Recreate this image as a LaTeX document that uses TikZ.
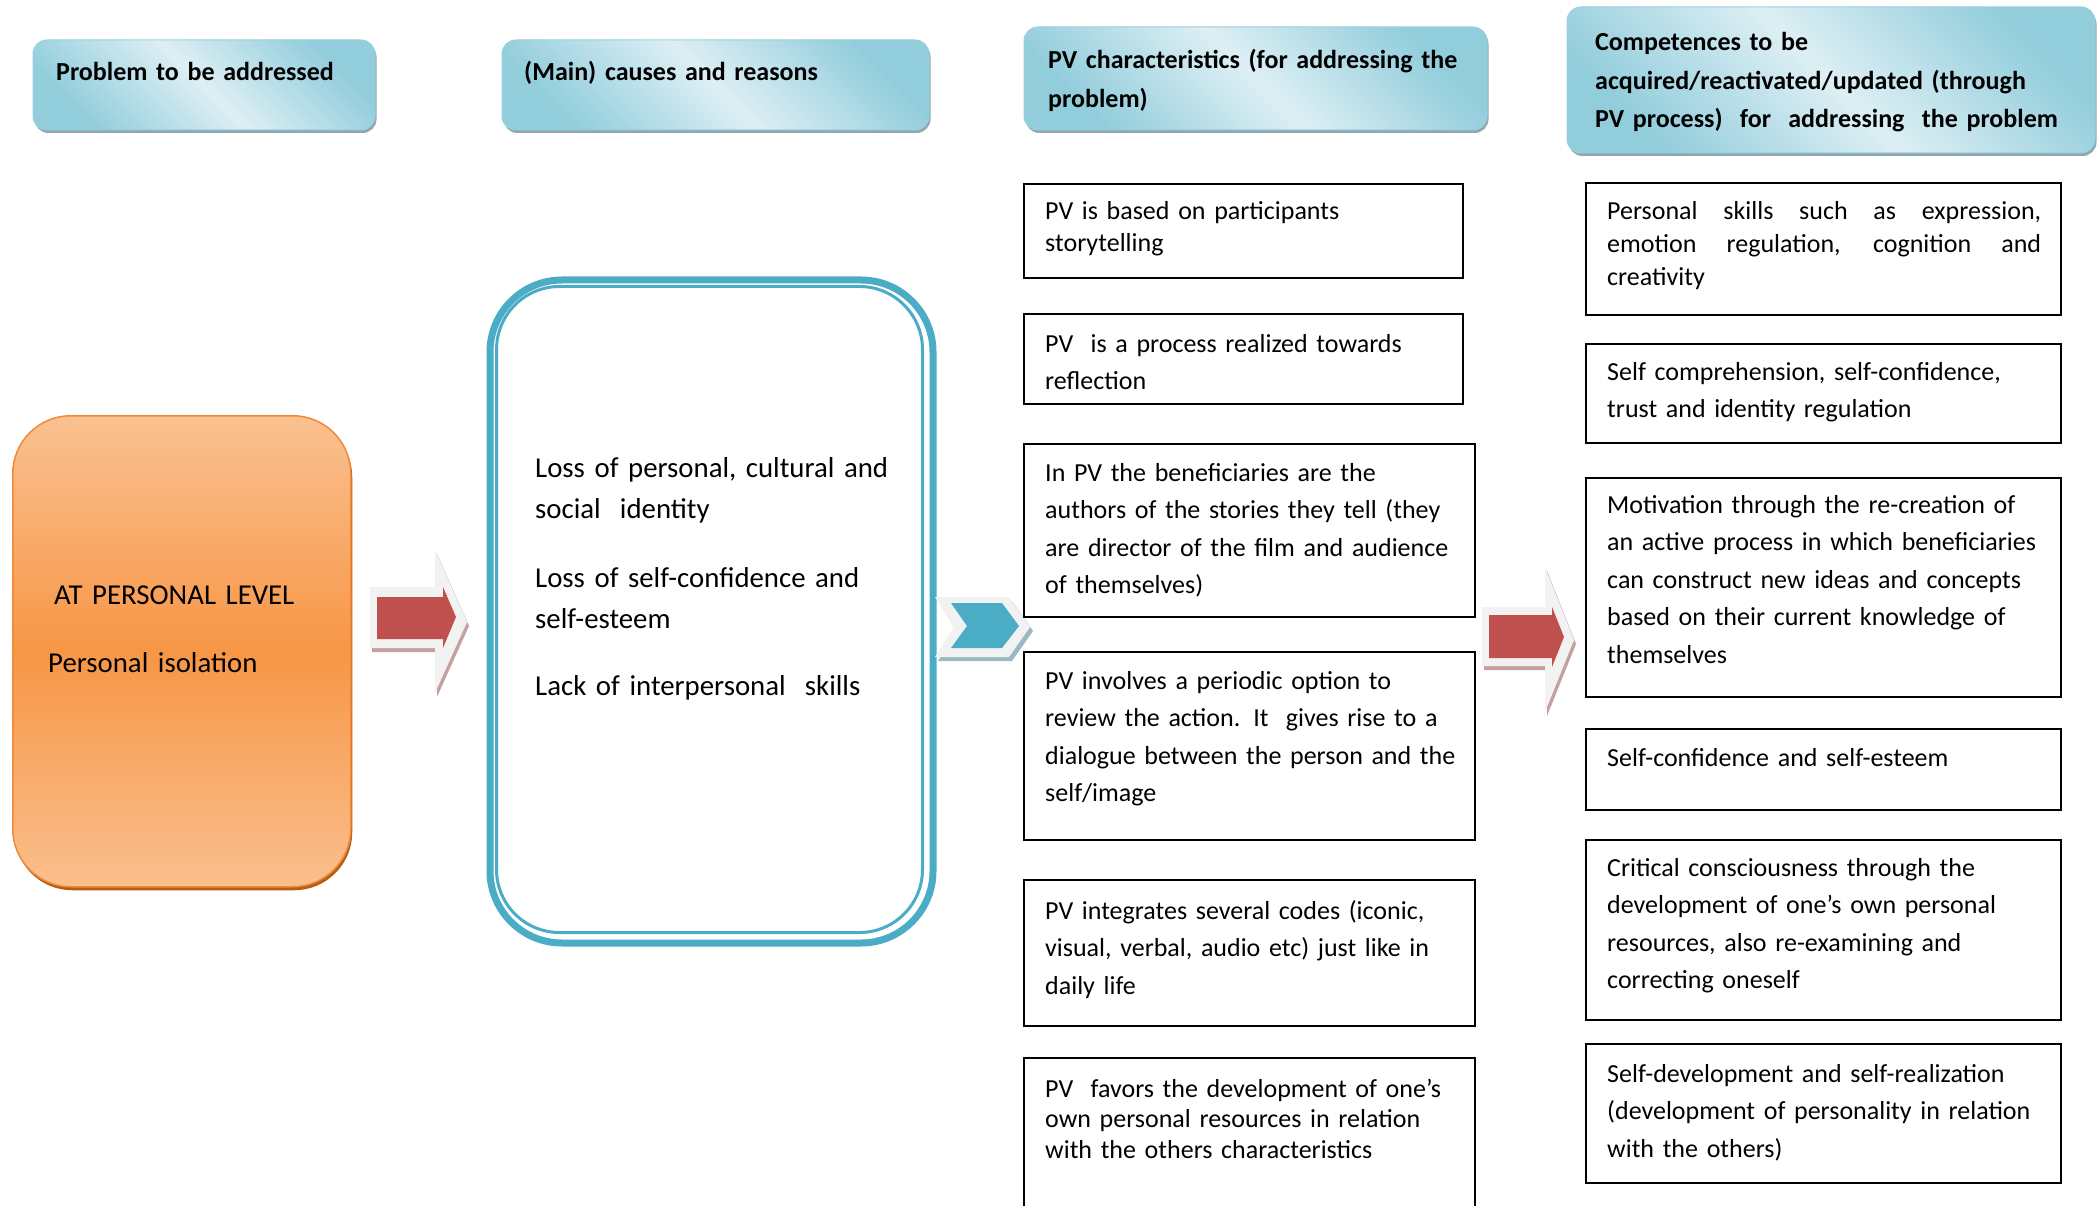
\documentclass[tikz,border=0pt]{standalone}
\usepackage{fontspec}
\setmainfont{Carlito}
\usetikzlibrary{shadows}
\definecolor{hdark}{HTML}{92CDDC}
\definecolor{hlight}{HTML}{DDEFF4}
\definecolor{hedge}{HTML}{9ACFDD}
\definecolor{hshadow}{HTML}{8FA8B0}
\definecolor{orlight}{HTML}{FAC191}
\definecolor{ormid}{HTML}{F79646}
\definecolor{oredge}{HTML}{F08A3A}
\definecolor{orshadow}{HTML}{B65F12}
\definecolor{cteal}{HTML}{4BACC6}
\definecolor{ared}{HTML}{C0504D}
\definecolor{agray}{HTML}{F2F2F2}
\definecolor{ashadowred}{HTML}{C4A0A0}
\definecolor{ashadowblue}{HTML}{9CB8C0}
\tikzset{
  hdr/.style={rectangle, rounded corners=14pt, draw=hedge, line width=1pt,
    top color=hdark, bottom color=hdark, middle color=hlight, shading angle=-45,
    inner sep=0pt, outer sep=0pt, anchor=north west,
    drop shadow={shadow xshift=1.5pt, shadow yshift=-3pt, fill=hshadow, opacity=1}},
  pvbox/.style={rectangle, draw=black, line width=2pt, fill=white, inner sep=0pt,
    outer sep=0pt, anchor=north west},
  bodytxt/.style={font=\fontsize{26.0}{37.5}\selectfont, align=left, text width=440pt,
    inner sep=0pt, anchor=base west},
  bigtxt/.style={font=\fontsize{28.8}{41.5}\selectfont, align=left, text width=400pt,
    inner sep=0pt, anchor=base west},
  hdrtxt/.style={font=\bfseries\fontsize{26.0}{38.5}\selectfont, align=left, text width=500pt,
    inner sep=0pt, anchor=base west},
  blockarrow/.style={fill=agray},
  redfill/.style={fill=ared},
  tealfill/.style={fill=cteal}
}
\begin{document}
\begin{tikzpicture}[x=1pt,y=-1pt]
\clip (0,0) rectangle (2098,1206);
\fill[white] (0,0) rectangle (2098,1206);

% ---------- headers ----------
\node[hdr, minimum width=342pt, minimum height=90pt] (h1) at (33,40) {};
\node[hdr, minimum width=427pt, minimum height=90pt] (h2) at (502,40) {};
\node[hdr, minimum width=463pt, minimum height=103pt] (h3) at (1024,27) {};
\node[hdr, minimum width=528pt, minimum height=146pt] (h4) at (1567,7) {};
\node[hdrtxt] (h1t) at (56,81) {Problem to be addressed};
\node[hdrtxt] (h2t) at (524,81) {(Main) causes and reasons};
\node[hdrtxt] (h3t) at (1048,69) {PV characteristics (for addressing the\\problem)};
\node[hdrtxt] (h4t) at (1595,51) {Competences to be\\acquired/reactivated/updated (through\\PV process)~ for~ addressing~ the problem};

% ---------- problem box ----------
\node[rectangle, rounded corners=58pt, draw=oredge, line width=1.5pt,
  top color=orlight, bottom color=orlight!95!ormid, middle color=ormid,
  minimum width=338pt, minimum height=471pt, anchor=north west, inner sep=0pt,
  drop shadow={shadow xshift=1.5pt, shadow yshift=-3.5pt, fill=orshadow, opacity=1}]
  (prob) at (12,415) {};
\node[bigtxt] (probt1) at (54,604) {AT PERSONAL LEVEL};
\node[bigtxt] (probt2) at (48,672) {Personal isolation};

% ---------- causes box ----------
\node[rectangle, rounded corners=72pt, draw=cteal, line width=7pt, fill=white,
  minimum width=443pt, minimum height=663pt, anchor=north west, inner sep=0pt]
  (cause) at (486.5,276.5) {};
\node[rectangle, rounded corners=63pt, draw=cteal, line width=3pt,
  minimum width=426pt, minimum height=646pt, anchor=north west, inner sep=0pt]
  (causein) at (495,285) {};
\node[bigtxt] (ct1) at (535,477) {Loss of personal, cultural and\\social~ identity};
\node[bigtxt] (ct2) at (535,587) {Loss of self-confidence and\\self-esteem};
\node[bigtxt] (ct3) at (535,695) {Lack of interpersonal~ skills};

% ---------- arrows ----------
\fill[ashadowred, shift={(2,4)}] (370,587) -- (435,587) -- (435,550) -- (467,622) -- (435,693) -- (435,648) -- (370,648) -- cycle;
\fill[blockarrow] (370,587) -- (435,587) -- (435,550) -- (467,622) -- (435,693) -- (435,648) -- (370,648) -- cycle;
\fill[redfill] (377,597) -- (443,597) -- (443,587) -- (456,617) -- (443,648) -- (443,639) -- (377,639) -- cycle;

\fill[ashadowblue, shift={(3,4)}] (935,597) -- (1009,597) -- (1030,627) -- (1009,657) -- (935,657) -- (954,627) -- cycle;
\fill[blockarrow] (935,597) -- (1009,597) -- (1030,627) -- (1009,657) -- (935,657) -- (954,627) -- cycle;
\fill[tealfill] (951,603) -- (1002,603) -- (1019,626) -- (1002,648) -- (951,648) -- (967,626) -- cycle;

\fill[ashadowred, shift={(2,4)}] (1482,607) -- (1545,607) -- (1545,567) -- (1574,640) -- (1545,712) -- (1545,666) -- (1482,666) -- cycle;
\fill[blockarrow] (1482,607) -- (1545,607) -- (1545,567) -- (1574,640) -- (1545,712) -- (1545,666) -- (1482,666) -- cycle;
\fill[redfill] (1489,615) -- (1552,615) -- (1552,607) -- (1564,637) -- (1552,667) -- (1552,658) -- (1489,658) -- cycle;

% ---------- PV characteristics ----------
\node[pvbox, minimum width=439pt, minimum height=94pt] (c1) at (1024,184) {};
\node[pvbox, minimum width=439pt, minimum height=90pt] (c2) at (1024,314) {};
\node[pvbox, minimum width=451pt, minimum height=173pt] (c3) at (1024,444) {};
\node[pvbox, minimum width=451pt, minimum height=188pt] (c4) at (1024,652) {};
\node[pvbox, minimum width=451pt, minimum height=146pt] (c5) at (1024,880) {};
\node[pvbox, minimum width=451pt, minimum height=180pt] (c6) at (1024,1058) {};
\node[bodytxt, font=\fontsize{26.0}{32}\selectfont] (c1t) at (1045,220) {PV is based on participants\\storytelling};
\node[bodytxt] (c2t) at (1045,352) {PV~ is a process realized towards\\reflection};
\node[bodytxt] (c3t) at (1045,481) {In PV the beneficiaries are the\\authors of the stories they tell (they\\are director of the film and audience\\of themselves)};
\node[bodytxt] (c4t) at (1045,689) {PV involves a periodic option to\\review the action. It~ gives rise to a\\dialogue between the person and the\\self/image};
\node[bodytxt] (c5t) at (1045,919) {PV integrates several codes (iconic,\\visual, verbal, audio etc) just like in\\daily life};
\node[bodytxt, font=\fontsize{26.0}{30.5}\selectfont] (c6t) at (1045,1097) {PV~ favors the development of one’s\\own personal resources in relation\\with the others characteristics};

% ---------- competences ----------
\node[pvbox, minimum width=475pt, minimum height=132pt] (k1) at (1586,183) {};
\node[pvbox, minimum width=475pt, minimum height=99pt] (k2) at (1586,344) {};
\node[pvbox, minimum width=475pt, minimum height=219pt] (k3) at (1586,478) {};
\node[pvbox, minimum width=475pt, minimum height=81pt] (k4) at (1586,729) {};
\node[pvbox, minimum width=475pt, minimum height=180pt] (k5) at (1586,840) {};
\node[pvbox, minimum width=475pt, minimum height=139pt] (k6) at (1586,1044) {};
\node[bodytxt, text width=434pt, align=justify, font=\fontsize{26.0}{33}\selectfont] (k1t) at (1607,220)
  {Personal~ skills~ such~ as~ expression,\linebreak emotion~ regulation,~ cognition~ and\linebreak creativity};
\node[bodytxt] (k2t) at (1607,380) {Self comprehension, self-confidence,\\trust and identity regulation};
\node[bodytxt] (k3t) at (1607,513) {Motivation through the re-creation of\\an active process in which beneficiaries\\can construct new ideas and concepts\\based on their current knowledge of\\themselves};
\node[bodytxt] (k4t) at (1607,766) {Self-confidence and self-esteem};
\node[bodytxt] (k5t) at (1607,876) {Critical consciousness through the\\development of one’s own personal\\resources, also re-examining and\\correcting oneself};
\node[bodytxt] (k6t) at (1607,1082) {Self-development and self-realization\\(development of personality in relation\\with the others)};
\end{tikzpicture}
\end{document}
